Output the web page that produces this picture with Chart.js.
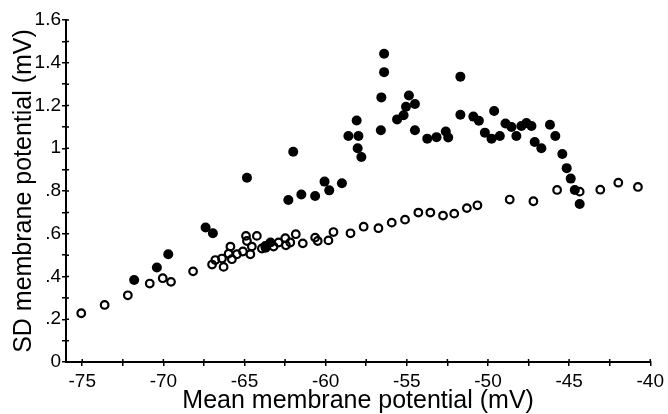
<!DOCTYPE html>
<html><head><meta charset="utf-8">
<script src="https://cdn.jsdelivr.net/npm/chart.js@4/dist/chart.umd.min.js"></script>
<style>html,body{margin:0;padding:0;background:#fff}</style>
</head><body>
<canvas id="c" width="668" height="414"></canvas>
<script>
// Filled circles
const filledX = [-71.8,-70.4,-69.7,-67.4,-66.95,-64.85,-63.4,-63.7,-62.3,-62.0,-61.5,-60.65,-60.07,-59.78,-59.0,
  -58.6,-58.09,-57.98,-58.03,-57.8,-56.57,-56.4,-56.4,-56.6,-55.6,-55.2,-55.05,-54.87,-54.5,-54.5,
  -53.74,-53.17,-52.6,-52.45,-51.7,-51.7,-50.9,-50.56,-49.62,-50.19,-49.78,-49.27,-48.92,-48.55,-48.25,
  -47.94,-47.63,-47.32,-47.12,-46.71,-46.18,-45.85,-45.42,-45.15,-44.9,-44.65,-44.35];
const filledY = [0.384,0.442,0.504,0.629,0.602,0.862,0.559,0.535,0.758,0.984,0.784,0.777,0.844,0.803,0.836,
  1.057,1.130,1.057,1.0,0.959,1.238,1.442,1.356,1.084,1.135,1.154,1.194,1.247,1.207,1.084,
  1.045,1.052,1.078,1.05,1.335,1.157,1.148,1.129,1.174,1.073,1.045,1.057,1.116,1.099,1.057,
  1.104,1.118,1.104,1.029,1.0,1.110,1.057,0.973,0.907,0.858,0.805,0.739];
// Open circles
const openX = [-75.06,-73.62,-72.19,-70.84,-70.04,-69.53,-68.17,-67.0,-66.8,-66.29,-66.39,-65.87,-65.98,-65.78,-65.47,
  -65.1,-64.91,-64.85,-64.64,-64.55,-64.24,-63.93,-63.72,-63.21,-62.9,-62.49,-62.45,-62.18,-61.84,-61.41,
  -60.65,-60.49,-59.83,-59.52,-58.47,-57.66,-56.75,-55.93,-55.11,-54.29,-53.55,-52.77,-52.08,-51.3,-50.65,
  -48.66,-47.2,-45.74,-44.35,-43.08,-41.97,-40.76];
const openY = [0.228,0.267,0.312,0.367,0.392,0.375,0.424,0.456,0.477,0.445,0.484,0.540,0.507,0.481,0.504,
  0.517,0.590,0.566,0.504,0.540,0.590,0.531,0.543,0.540,0.559,0.579,0.546,0.559,0.598,0.555,
  0.582,0.566,0.569,0.608,0.602,0.633,0.626,0.652,0.666,0.699,0.699,0.685,0.694,0.720,0.733,
  0.760,0.752,0.805,0.797,0.806,0.839,0.819];
// Tick labels
const xTickValues = [-75,-70,-65,-60,-55,-50,-45,-40];
const xTickLabels = ['-75','-70','-65','-60','-55','-50','-45','-40'];
const yTickValues = [0,0.2,0.4,0.6,0.8,1.0,1.2,1.4,1.6];
const yTickLabels = ['0','.2','.4','.6','.8','1','1.2','1.4','1.6'];

function lab(vals, labels, v){
  for (let i=0;i<vals.length;i++) if (Math.abs(vals[i]-v)<1e-6) return labels[i];
  return '';
}

// draws the inward half of each tick mark so ticks cross the axis line
const crossTicks = {
  id:'crossTicks',
  afterDraw(chart){
    const ctx = chart.ctx, xs = chart.scales.x, ys = chart.scales.y;
    const ca = chart.chartArea;
    ctx.save();
    ctx.strokeStyle = '#000'; ctx.lineWidth = 1.5;
    ctx.beginPath();
    xs.ticks.forEach(t => { const p = xs.getPixelForValue(t.value); ctx.moveTo(p, ca.bottom); ctx.lineTo(p, ca.bottom-3); });
    ys.ticks.forEach(t => { const p = ys.getPixelForValue(t.value); ctx.moveTo(ca.left, p); ctx.lineTo(ca.left+3, p); });
    ctx.stroke();
    ctx.restore();
  }
};

Chart.defaults.font.family = '"Liberation Sans", Arial, Helvetica, sans-serif';
Chart.defaults.color = '#000';

new Chart(document.getElementById('c').getContext('2d'), {
  type: 'scatter',
  data: { datasets: [
    { label: 'open', data: openX.map((x,i)=>({x:x, y:openY[i]})),
      pointStyle:'circle', pointRadius:3.8, pointHoverRadius:3.8, borderWidth:2.2,
      borderColor:'#000', backgroundColor:'rgba(0,0,0,0)' },
    { label: 'filled', data: filledX.map((x,i)=>({x:x, y:filledY[i]})),
      pointStyle:'circle', pointRadius:5, pointHoverRadius:5, borderWidth:0,
      borderColor:'#000', backgroundColor:'#000' }
  ]},
  options: {
    responsive:false, animation:false, devicePixelRatio:1,
    layout:{padding:{top:20,right:16,left:0,bottom:0}},
    plugins:{legend:{display:false}, tooltip:{enabled:false}},
    scales:{
      x:{ type:'linear', min:-76, max:-40,
        afterFit(s){ s.height = 52; },
        border:{color:'#000', width:2},
        grid:{drawOnChartArea:false, drawTicks:true, tickLength:4, color:'#000', lineWidth:1.5},
        ticks:{stepSize:2.5, includeBounds:false, autoSkip:false, maxRotation:0, color:'#000',
          font:{size:19}, padding:4,
          callback(v){ return lab(xTickValues, xTickLabels, v); } },
        title:{display:true, text:'Mean membrane potential (mV)', color:'#000',
          font:{size:25, lineHeight:1}, padding:{top:0,bottom:0}}
      },
      y:{ type:'linear', min:0, max:1.6,
        afterFit(s){ s.width = 66; },
        border:{color:'#000', width:2},
        grid:{drawOnChartArea:false, drawTicks:true, tickLength:4, color:'#000', lineWidth:1.5},
        ticks:{stepSize:0.1, autoSkip:false, color:'#000', font:{size:19}, padding:1,
          callback(v){ return lab(yTickValues, yTickLabels, v); } },
        title:{display:true, text:'SD membrane potential (mV)', color:'#000',
          font:{size:25, lineHeight:1}, padding:{top:12,bottom:0}}
      }
    }
  },
  plugins:[crossTicks]
});
</script>
</body></html>
